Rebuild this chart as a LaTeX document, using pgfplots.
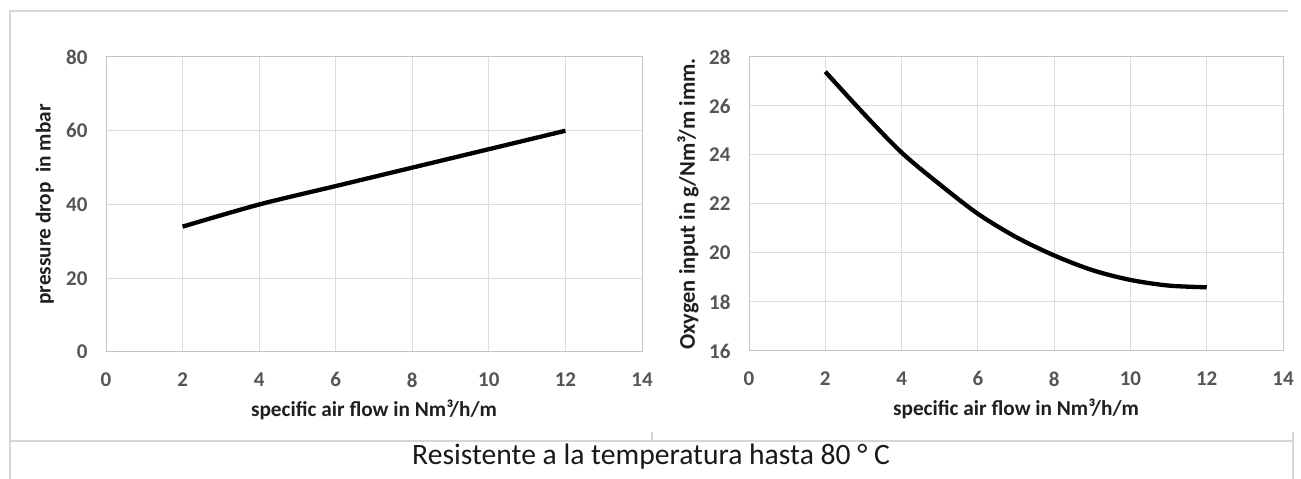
\documentclass[border=0pt]{standalone}
\usepackage{fontspec}
\setmainfont{Carlito}
\usepackage{pgfplots}
\pgfplotsset{compat=1.18}
\definecolor{framegray}{HTML}{D6D6D6}
\definecolor{gridgray}{HTML}{DCDCDC}
\definecolor{axgray}{HTML}{C4C4C4}
\definecolor{ticktext}{HTML}{555555}
\definecolor{labeltext}{HTML}{1F1F1F}
\pgfplotsset{
  panel/.style={
    scale only axis,
    anchor=south west,
    xmin=0, xmax=14,
    xtick={0,2,...,14},
    grid=major,
    major grid style={draw=gridgray, line width=1bp},
    axis line style={draw=axgray, line width=1bp},
    tick style={draw=none},
    /pgf/number format/assume math mode=true,
    tick label style={font=\fontsize{21bp}{25bp}\selectfont\bfseries, text=ticktext},
    xticklabel style={yshift=-17bp},
    yticklabel style={xshift=-15bp},
    label style={font=\fontsize{21.3bp}{25bp}\selectfont\bfseries, text=labeltext},
    xlabel style={at={(axis description cs:0.5,-0.197)}, anchor=center},
    ylabel style={at={(axis description cs:-0.114,0.5)}, anchor=center},
    xlabel={specific air flow in Nm³/h/m},
  }
}
\begin{document}
\begin{tikzpicture}[x=1bp,y=1bp]
\path[use as bounding box] (0,0) rectangle (1301,479);
% frame lines
\draw[framegray, line width=2bp] (10,0) -- (10,468) -- (1288,468);
\draw[framegray, line width=2bp] (10,38) -- (1293,38);
\draw[framegray, line width=2bp] (1293,0) -- (1293,47);
\draw[framegray, line width=1.5bp] (652,38) -- (652,47);

\begin{axis}[panel,
  at={(106bp,127bp)}, width=536bp, height=295bp,
  ymin=0, ymax=80, ytick={0,20,...,80},
  ylabel={pressure drop\ \ in mbar}]
\addplot[black, line width=4.3bp, smooth] coordinates {
 (2,34) (4,40) (6,45) (8,50) (10,55) (12,60)};
\end{axis}

\begin{axis}[panel,
  at={(749bp,128bp)}, width=534bp, height=294bp,
  ymin=16, ymax=28, ytick={16,18,...,28},
  ylabel style={font=\fontsize{22.5bp}{26bp}\selectfont\bfseries},
  ylabel={Oxygen input in g/Nm³/m imm.}]
\addplot[black, line width=4.3bp, smooth] coordinates {
 (2,27.4) (3,25.7) (4,24.1) (5,22.8) (6,21.6) (7,20.65) (8,19.9) (9,19.3) (10,18.9) (11,18.67) (12,18.6)};
\end{axis}

\node[font=\fontsize{29.6bp}{34bp}\selectfont, text=black!90, anchor=center] at (651,22) {Resistente a la temperatura hasta 80 ° C};
\end{tikzpicture}
\end{document}
